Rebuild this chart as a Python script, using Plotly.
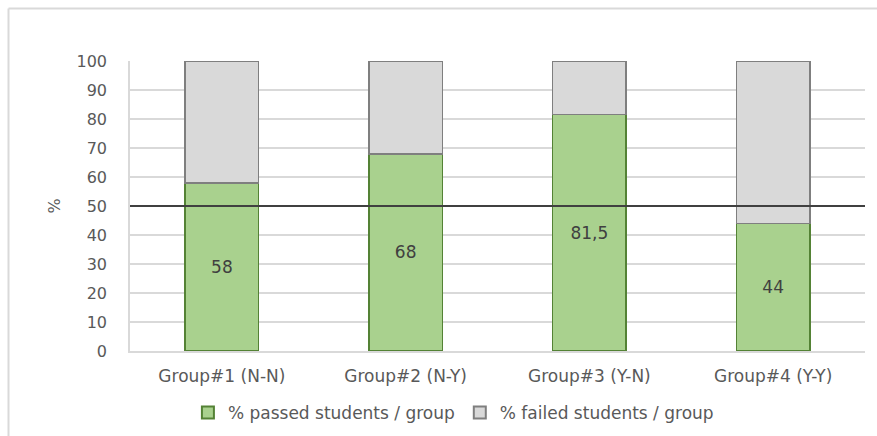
import plotly.graph_objects as go

# Chart data
groups = ["Group#1 (N-N)", "Group#2 (N-Y)", "Group#3 (Y-N)", "Group#4 (Y-Y)"]
passed = [58, 68, 81.5, 44]
failed = [100 - v for v in passed]
threshold = 50
y_ticks = [0, 10, 20, 30, 40, 50, 60, 70, 80, 90, 100]

W, H = 877, 436
FONT = "'DejaVu Sans', Verdana, sans-serif"
TXT = "#595959"

passed_labels = [f"{v:g}".replace(".", ",") for v in passed]

fig = go.Figure()
fig.add_trace(go.Bar(
    x=groups, y=passed, name="% passed students / group",
    marker=dict(color="#A9D18E", line=dict(color="#548235", width=1.5)),
    text=passed_labels, textposition="inside", insidetextanchor="middle",
    textangle=0, textfont=dict(size=17, color="#404040", family=FONT),
    width=0.4,
))
fig.add_trace(go.Bar(
    x=groups, y=failed, name="% failed students / group",
    marker=dict(color="#D9D9D9", line=dict(color="#7F7F7F", width=1.5)),
    width=0.4,
))

# Pass threshold line across the plot area
fig.add_shape(type="line", xref="x domain", yref="y", x0=0, x1=1,
              y0=threshold, y1=threshold,
              line=dict(color="#404040", width=2), layer="above")

# Chart frame (top and left edges)
fig.add_shape(type="line", xref="paper", yref="paper",
              x0=8.5 / W, x1=1, y0=1 - 8.5 / H, y1=1 - 8.5 / H,
              line=dict(color="#D9D9D9", width=2))
fig.add_shape(type="line", xref="paper", yref="paper",
              x0=8.5 / W, x1=8.5 / W, y0=0, y1=1 - 8.5 / H,
              line=dict(color="#D9D9D9", width=2))

fig.update_layout(
    width=W, height=H,
    barmode="stack",
    margin=dict(l=0, r=0, t=0, b=0),
    paper_bgcolor="white", plot_bgcolor="white",
    font=dict(family=FONT, size=15, color=TXT),
    showlegend=True,
    legend=dict(orientation="h", x=0.517, xanchor="center",
                y=1 - 413 / H, yanchor="middle",
                font=dict(size=17, color=TXT), traceorder="normal",
                itemsizing="constant", itemwidth=30),
    xaxis=dict(domain=[130 / W, 865 / W], automargin=False,
               showline=True, linecolor="#D9D9D9", linewidth=1.5,
               ticks="", tickfont=dict(size=17, color=TXT),
               ticklabelstandoff=9),
    yaxis=dict(domain=[85 / H, 375 / H], automargin=False,
               range=[0, 100], tickvals=y_ticks,
               showgrid=True, gridcolor="#D9D9D9", gridwidth=1.5,
               showline=True, linecolor="#D9D9D9", linewidth=1.5,
               zeroline=False, ticks="",
               tickfont=dict(size=16, color=TXT), ticklabelstandoff=18,
               title=dict(text="%", font=dict(size=16, color=TXT), standoff=12)),
)

fig.write_html("out.html")
